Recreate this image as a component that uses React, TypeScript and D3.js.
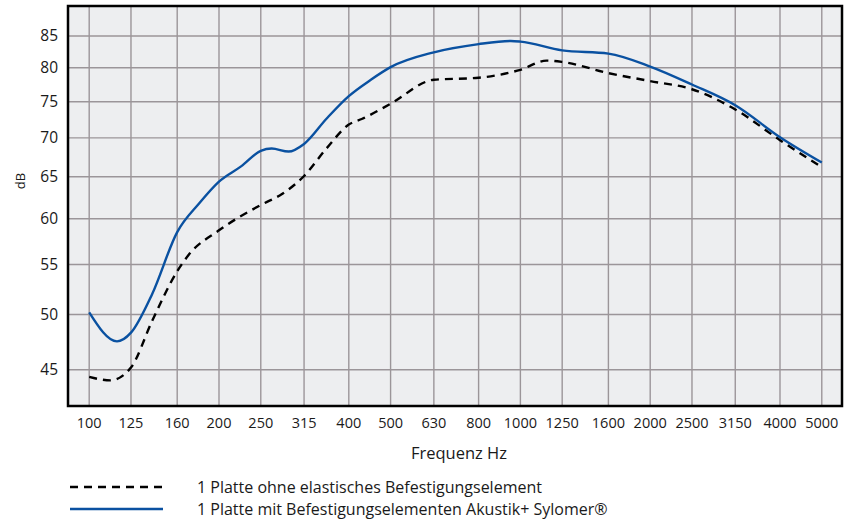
import * as d3 from 'd3';
import React, { useRef, useEffect } from 'react';

const bands = [100, 125, 160, 200, 250, 315, 400, 500, 630, 800, 1000, 1250, 1600, 2000, 2500, 3150, 4000, 5000];
const dbTicks = [45, 50, 55, 60, 65, 70, 75, 80, 85];

// readings [Hz, dB]
const ohneElement = [
  [100, 44.4], [112, 44.1], [125, 45.2], [140, 49.4], [160, 54.3], [170, 56.0],
  [200, 58.7], [250, 61.6], [280, 62.9], [315, 65.1], [355, 68.6], [400, 71.8],
  [430, 72.6], [500, 74.7], [630, 78.2], [800, 78.5], [1000, 79.7], [1150, 81.1],
  [1250, 80.9], [1600, 79.2], [2000, 78.0], [2500, 76.8], [3150, 73.9], [4000, 69.7], [5000, 66.2]
];
const mitSylomer = [
  [100, 50.2], [116, 47.5], [125, 48.3], [140, 52.0], [160, 58.5], [180, 61.8],
  [200, 64.4], [225, 66.3], [250, 68.3], [265, 68.6], [290, 68.2], [315, 69.2],
  [355, 72.6], [400, 75.8], [450, 78.2], [500, 80.1], [630, 82.4], [800, 83.7],
  [950, 84.2], [1000, 84.1], [1250, 82.7], [1600, 82.2], [2000, 80.2], [2500, 77.5],
  [3150, 74.5], [4000, 70.1], [5000, 66.8]
];

const legendLabels = [
  '1 Platte ohne elastisches Befestigungselement',
  '1 Platte mit Befestigungselementen Akustik+ Sylomer®'
];

function App() {
  const ref = useRef(null);
  const width = 860, height = 521;
  const margin = { top: 6, right: 18, bottom: 115, left: 68 };
  const font = 'Open Sans';
  const blue = '#0a51a1';

  useEffect(() => {
    const svg = d3.select(ref.current);
    svg.selectAll('*').remove();

    const x = d3.scaleLog().domain([89.3, 5570]).range([margin.left, width - margin.right]);
    const y = d3.scaleLog().domain([42, 90]).range([height - margin.bottom, margin.top]);

    svg.append('rect')
      .attr('x', margin.left).attr('y', margin.top)
      .attr('width', width - margin.right - margin.left)
      .attr('height', height - margin.bottom - margin.top)
      .attr('fill', '#edeef0');

    const grid = svg.append('g').attr('stroke', '#9b9599').attr('stroke-width', 1.4);
    grid.selectAll('line.v').data(bands).enter().append('line')
      .attr('x1', d => x(d)).attr('x2', d => x(d))
      .attr('y1', margin.top).attr('y2', height - margin.bottom);
    grid.selectAll('line.h').data(dbTicks).enter().append('line')
      .attr('y1', d => y(d)).attr('y2', d => y(d))
      .attr('x1', margin.left).attr('x2', width - margin.right);

    const line = d3.line()
      .x(d => x(d[0]))
      .y(d => y(d[1]))
      .curve(d3.curveMonotoneX);

    svg.append('path')
      .datum(ohneElement)
      .attr('d', line)
      .attr('fill', 'none')
      .attr('stroke', '#000')
      .attr('stroke-width', 2.4)
      .attr('stroke-dasharray', '8,6');

    svg.append('path')
      .datum(mitSylomer)
      .attr('d', line)
      .attr('fill', 'none')
      .attr('stroke', blue)
      .attr('stroke-width', 2.4);

    svg.append('rect')
      .attr('x', margin.left).attr('y', margin.top)
      .attr('width', width - margin.right - margin.left)
      .attr('height', height - margin.bottom - margin.top)
      .attr('fill', 'none')
      .attr('stroke', '#000')
      .attr('stroke-width', 2.5);

    // tick labels
    svg.append('g')
      .selectAll('text').data(dbTicks).enter().append('text')
      .attr('x', 58).attr('y', d => y(d))
      .attr('dy', '0.35em')
      .attr('text-anchor', 'end')
      .style('font-family', font).style('font-size', '15.5px').attr('fill', '#1a1a1a')
      .text(d => d);

    svg.append('g')
      .selectAll('text').data(bands).enter().append('text')
      .attr('x', d => x(d)).attr('y', 423)
      .attr('dy', '0.35em')
      .attr('text-anchor', 'middle')
      .style('font-family', font).style('font-size', '14.5px').attr('fill', '#1a1a1a')
      .text(d => d);

    svg.append('text')
      .attr('x', 459).attr('y', 453).attr('dy', '0.35em')
      .attr('text-anchor', 'middle')
      .style('font-family', font).style('font-size', '16.5px').attr('fill', '#1a1a1a')
      .text('Frequenz Hz');

    svg.append('text')
      .attr('transform', 'translate(20,181) rotate(-90)')
      .attr('dy', '0.35em')
      .attr('text-anchor', 'middle')
      .style('font-family', font).style('font-size', '13px').attr('fill', '#1a1a1a')
      .text('dB');

    // legend
    const leg = svg.append('g');
    const legY = [487, 509];
    leg.append('line')
      .attr('x1', 70).attr('x2', 165).attr('y1', legY[0]).attr('y2', legY[0])
      .attr('stroke', '#000').attr('stroke-width', 2.4).attr('stroke-dasharray', '8,6');
    leg.append('line')
      .attr('x1', 70).attr('x2', 163).attr('y1', legY[1]).attr('y2', legY[1])
      .attr('stroke', blue).attr('stroke-width', 2.4);
    leg.selectAll('text').data(legendLabels).enter().append('text')
      .attr('x', 197).attr('y', (d, i) => legY[i])
      .attr('dy', '0.35em')
      .style('font-family', font).style('font-size', '16px').attr('fill', '#1a1a1a')
      .text(d => d);
  });

  return (
    <div className="chart" style={{ position: 'absolute', left: 0, top: 0 }}>
      <svg ref={ref} width={width} height={height} style={{ display: 'block' }}></svg>
    </div>
  );
}

export default App;
